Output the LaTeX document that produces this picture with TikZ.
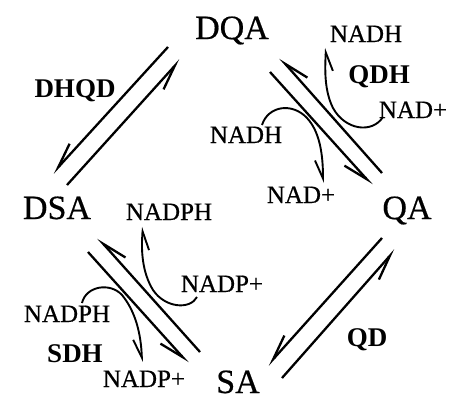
\documentclass[tikz,border=0pt]{standalone}
\usepackage{fontspec}
\setmainfont{Liberation Serif}[FakeBold=0.5, BoldFeatures={FakeBold=0}]
\usetikzlibrary{arrows.meta}
\tikzset{
  compound/.style={inner sep=0pt, anchor=base, font=\fontsize{34}{34}\selectfont},
  cofactor/.style={inner sep=0pt, anchor=base, font=\fontsize{25}{25}\selectfont},
  enzyme/.style={inner sep=0pt, anchor=base, font=\fontsize{27}{27}\selectfont\bfseries},
  rxn/.style={line width=2.3pt, -{Straight Barb[harpoon, swap, length=25pt, width=15pt, line width=2.3pt]}},
  cof/.style={line width=1.9pt, -{Straight Barb[harpoon, swap, length=18pt, width=16pt, line width=1.9pt]}},
}
\begin{document}
\begin{tikzpicture}[x=1pt, y=-1pt]
\useasboundingbox (0,0) rectangle (450,399);

% metabolites
\node[compound] (dqa) at (232,39) {DQA};
\node[compound] (dsa) at (57,219) {DSA};
\node[compound] (qa)  at (407,219) {QA};
\node[compound] (sa)  at (238,393) {SA};

% enzymes
\node[enzyme] (dhqd) at (75,97) {DHQD};
\node[enzyme] (qdh)  at (379,83) {QDH};
\node[enzyme] (sdh)  at (75,362) {SDH};
\node[enzyme] (qd)   at (367,346) {QD};

% cofactors
\node[cofactor] (nadhT)  at (366,42)  {NADH};
\node[cofactor] (nadR)   at (413,118) {NAD+};
\node[cofactor] (nadhL)  at (246,143) {NADH};
\node[cofactor] (nadB)   at (301,203) {NAD+};
\node[cofactor] (nadphT) at (169,220) {NADPH};
\node[cofactor] (nadpR)  at (222,292) {NADP+};
\node[cofactor] (nadphL) at (67,322)  {NADPH};
\node[cofactor] (nadpB)  at (144,387) {NADP+};

% ends of the reaction arrows
\coordinate (a1) at (168,47);  \coordinate (a2) at (53,173);
\coordinate (b1) at (67,185);  \coordinate (b2) at (180,60);
\coordinate (c1) at (382,173); \coordinate (c2) at (280,58);
\coordinate (d1) at (270,72);  \coordinate (d2) at (372,185);
\coordinate (e1) at (200,352); \coordinate (e2) at (98,238);
\coordinate (f1) at (88,252);  \coordinate (f2) at (188,363);
\coordinate (g1) at (382,238); \coordinate (g2) at (268,365);
\coordinate (h1) at (282,378); \coordinate (h2) at (395,250);

% ends of the cofactor arcs
\coordinate (p1) at (383,117); \coordinate (p2) at (326,48);
\coordinate (q1) at (262,125); \coordinate (q2) at (323,183);
\coordinate (r1) at (197,297); \coordinate (r2) at (143,227);
\coordinate (s1) at (82,303);  \coordinate (s2) at (142,362);

% reversible steps
\draw[rxn] (a1) -- (a2);
\draw[rxn] (b1) -- (b2);
\draw[rxn] (c1) -- (c2);
\draw[rxn] (d1) -- (d2);
\draw[rxn] (e1) -- (e2);
\draw[rxn] (f1) -- (f2);
\draw[rxn] (g1) -- (g2);
\draw[rxn] (h1) -- (h2);

% cofactor turnover
\draw[cof] (p1) .. controls (372,134) and (345,130) .. (333,108)
  .. controls (324,90) and (325,68) .. (p2);
\draw[cof] (q1) .. controls (268,106) and (292,102) .. (307,118)
  .. controls (320,132) and (323,155) .. (q2);
\draw[cof] (r1) .. controls (190,310) and (165,308) .. (153,290)
  .. controls (142,272) and (141,250) .. (r2);
\draw[cof] (s1) .. controls (86,286) and (110,282) .. (122,295)
  .. controls (136,312) and (141,335) .. (s2);
\end{tikzpicture}
\end{document}
